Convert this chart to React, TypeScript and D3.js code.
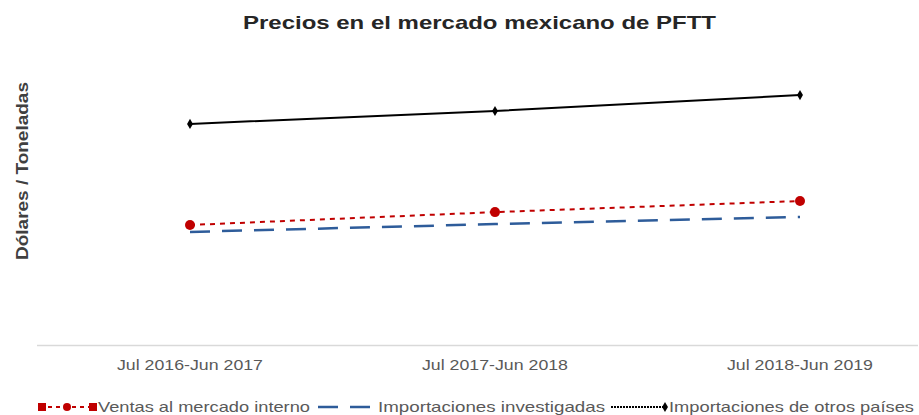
import React, { useRef, useEffect } from 'react';
import * as d3 from 'd3';

const categories = ['Jul 2016-Jun 2017', 'Jul 2017-Jun 2018', 'Jul 2018-Jun 2019'];
const ventasInterno = [400, 443, 480];
const importInvestigadas = [377, 403, 427];
const importOtros = [737, 780, 833];

const seriesNames = [
  'Ventas al mercado interno',
  'Importaciones investigadas',
  'Importaciones de otros países',
];

const App: React.FC = () => {
  const ref = useRef<SVGSVGElement | null>(null);

  useEffect(() => {
    const width = 919;
    const height = 415;
    const svg = d3.select(ref.current);
    svg.selectAll('*').remove();
    svg.attr('width', width).attr('height', height);

    const x = d3.scalePoint<string>().domain(categories).range([190, 800]);
    const y = d3.scaleLinear().domain([0, 1000]).range([345, 45]);

    svg.append('text')
      .attr('x', 243).attr('y', 29)
      .attr('font-family', 'Liberation Sans, Arial, sans-serif')
      .attr('font-weight', 'bold')
      .attr('font-size', 19)
      .attr('textLength', 473)
      .attr('lengthAdjust', 'spacingAndGlyphs')
      .attr('fill', '#262626')
      .text('Precios en el mercado mexicano de PFTT');

    svg.append('text')
      .attr('transform', 'translate(28,260) rotate(-90)')
      .attr('font-family', 'Liberation Sans, sans-serif')
      .attr('font-weight', 'bold')
      .attr('font-size', 16)
      .attr('textLength', 178)
      .attr('lengthAdjust', 'spacingAndGlyphs')
      .attr('fill', '#404040')
      .text('Dólares / Toneladas');

    // x axis
    svg.append('line')
      .attr('x1', 37).attr('x2', 918)
      .attr('y1', 345.5).attr('y2', 345.5)
      .attr('stroke', '#d9d9d9').attr('stroke-width', 1.5);

    svg.append('g').selectAll('text').data(categories).join('text')
      .attr('x', (d) => x(d)! - 73)
      .attr('y', 370)
      .attr('font-family', 'Liberation Sans, Arial, sans-serif')
      .attr('font-size', 15)
      .attr('textLength', 146)
      .attr('lengthAdjust', 'spacingAndGlyphs')
      .attr('fill', '#595959')
      .text((d) => d);

    const line = d3.line<number>()
      .x((_, i) => x(categories[i])!)
      .y((d) => y(d));

    const styles = [
      { data: ventasInterno, color: '#c00000', dash: '5,5', width: 2 },
      { data: importInvestigadas, color: '#2e5c9a', dash: '20,12', width: 2.5 },
      { data: importOtros, color: '#000000', dash: null, width: 2 },
    ];

    styles.forEach((s) => {
      svg.append('path')
        .datum(s.data)
        .attr('fill', 'none')
        .attr('stroke', s.color)
        .attr('stroke-width', s.width)
        .attr('stroke-dasharray', s.dash)
        .attr('d', line);
    });

    // red markers
    svg.append('g').selectAll('circle').data(ventasInterno).join('circle')
      .attr('cx', (_, i) => x(categories[i])!)
      .attr('cy', (d) => y(d))
      .attr('r', 5)
      .attr('fill', '#c00000');

    // black markers
    svg.append('g').selectAll('path').data(importOtros).join('path')
      .attr('transform', (d, i) => `translate(${x(categories[i])},${y(d)})`)
      .attr('d', d3.symbol().type(d3.symbolDiamond).size(30)())
      .attr('fill', '#000');

    // legend
    const legendY = 407;
    const legend = svg.append('g')
      .attr('font-family', 'Liberation Sans, sans-serif')
      .attr('font-size', 15)
      .attr('fill', '#595959');

    // red
    legend.append('line')
      .attr('x1', 40).attr('x2', 95).attr('y1', legendY).attr('y2', legendY)
      .attr('stroke', '#c00000').attr('stroke-width', 2).attr('stroke-dasharray', '4,4');
    [42, 93].forEach((px) => legend.append('rect')
      .attr('x', px - 4).attr('y', legendY - 4).attr('width', 8).attr('height', 8)
      .attr('fill', '#c00000'));
    legend.append('circle').attr('cx', 67).attr('cy', legendY).attr('r', 4).attr('fill', '#c00000');
    legend.append('text').attr('x', 98).attr('y', legendY + 5)
      .attr('textLength', 212).attr('lengthAdjust', 'spacingAndGlyphs')
      .text(seriesNames[0]);

    // blue
    legend.append('line')
      .attr('x1', 318).attr('x2', 376).attr('y1', legendY).attr('y2', legendY)
      .attr('stroke', '#2e5c9a').attr('stroke-width', 2.5).attr('stroke-dasharray', '20,12');
    legend.append('text').attr('x', 378).attr('y', legendY + 5)
      .attr('textLength', 227).attr('lengthAdjust', 'spacingAndGlyphs')
      .text(seriesNames[1]);

    // black
    legend.append('line')
      .attr('x1', 611).attr('x2', 665).attr('y1', legendY).attr('y2', legendY)
      .attr('stroke', '#000').attr('stroke-width', 2).attr('stroke-dasharray', '2,1');
    legend.append('path')
      .attr('transform', `translate(665,${legendY})`)
      .attr('d', d3.symbol().type(d3.symbolDiamond).size(30)())
      .attr('fill', '#000');
    legend.append('text').attr('x', 669).attr('y', legendY + 5)
      .attr('textLength', 245).attr('lengthAdjust', 'spacingAndGlyphs')
      .text(seriesNames[2]);
  }, []);

  return (
    <div style={{ position: 'absolute', left: 0, top: 0 }}>
      <svg ref={ref} style={{ display: 'block' }} />
    </div>
  );
};

export default App;
